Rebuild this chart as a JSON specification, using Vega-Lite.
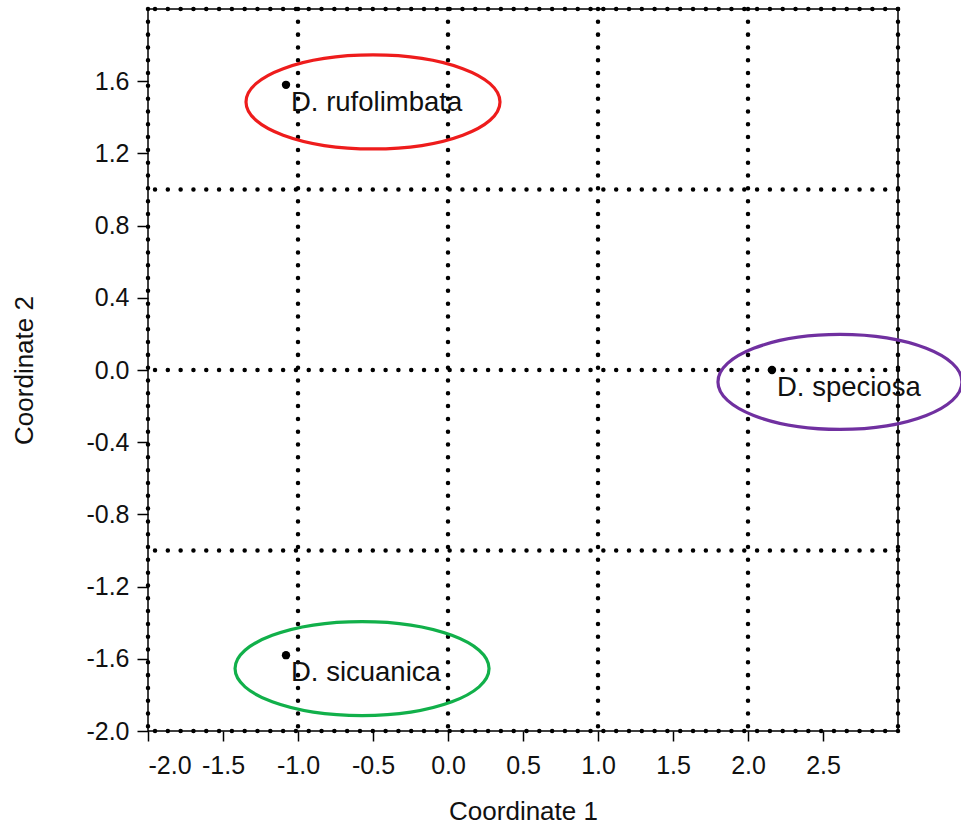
{
  "$schema": "https://vega.github.io/schema/vega-lite/v6.json",
  "autosize": {"type": "none"},
  "width": 750,
  "height": 722,
  "padding": {"left": 148, "top": 9, "right": 63, "bottom": 97},
  "background": "white",
  "config": {
    "view": {"stroke": "black", "strokeWidth": 1.5},
    "font": "Liberation Sans",
    "axis": {
      "grid": false,
      "domain": false,
      "ticks": true,
      "tickColor": "black",
      "tickWidth": 1.5,
      "labelFont": "Liberation Sans",
      "labelFontSize": 25,
      "labelColor": "#111",
      "titleFont": "Liberation Sans",
      "titleFontSize": 26,
      "titleFontWeight": "normal",
      "titleColor": "#111"
    }
  },
  "datasets": {
    "points": [
      {"species": "D. rufolimbata", "c1": -1.08, "c2": 1.58},
      {"species": "D. sicuanica", "c1": -1.08, "c2": -1.58},
      {"species": "D. speciosa", "c1": 2.16, "c2": 0.0}
    ],
    "groups": [
      {"group": "red", "c1": -0.5, "c2": 1.485},
      {"group": "green", "c1": -0.573, "c2": -1.654},
      {"group": "purple", "c1": 2.613, "c2": -0.066}
    ],
    "vgrid": [{"v": -2}, {"v": -1}, {"v": 0}, {"v": 1}, {"v": 2}, {"v": 3}],
    "hgrid": [{"v": -2}, {"v": -1}, {"v": 0}, {"v": 1}, {"v": 2}]
  },
  "layer": [
    {
      "data": {"name": "vgrid"},
      "mark": {"type": "rule", "color": "black", "strokeWidth": 4.5, "strokeDash": [0.01, 12.8], "strokeCap": "round"},
      "encoding": {
        "x": {"field": "v", "type": "quantitative", "scale": {"domain": [-2, 3], "nice": false, "zero": false},
          "axis": {"values": [-2, -1.5, -1, -0.5, 0, 0.5, 1, 1.5, 2, 2.5], "labelExpr": "(datum.value < 0 ? '-' : '') + format(abs(datum.value), '.1f')", "title": "Coordinate 1", "tickSize": 10, "labelPadding": 12, "titlePadding": 20}}
      }
    },
    {
      "data": {"name": "hgrid"},
      "mark": {"type": "rule", "color": "black", "strokeWidth": 4.5, "strokeDash": [0.01, 12.8], "strokeCap": "round"},
      "encoding": {
        "y": {"field": "v", "type": "quantitative", "scale": {"domain": [-2, 2], "nice": false, "zero": false},
          "axis": {"values": [-2, -1.6, -1.2, -0.8, -0.4, 0, 0.4, 0.8, 1.2, 1.6], "labelExpr": "(datum.value < 0 ? '-' : '') + format(abs(datum.value), '.1f')", "title": "Coordinate 2", "tickSize": 11, "labelPadding": 8, "titlePadding": 48}}
      }
    },
    {
      "data": {"name": "groups"},
      "transform": [{"filter": "datum.group !== 'purple'"}],
      "mark": {"type": "point", "filled": false, "strokeWidth": 3.2, "opacity": 1,
        "shape": "M1,0C1,0.2044,0.5523,0.37,0,0.37C-0.5523,0.37,-1,0.2044,-1,0C-1,-0.2044,-0.5523,-0.37,0,-0.37C0.5523,-0.37,1,-0.2044,1,0Z",
        "size": 64516},
      "encoding": {
        "x": {"field": "c1", "type": "quantitative"},
        "y": {"field": "c2", "type": "quantitative"},
        "color": {"field": "group", "type": "nominal", "scale": {"domain": ["red", "green", "purple"], "range": ["#ee1c1c", "#11b04a", "#7030a0"]}, "legend": null}
      }
    },
    {
      "data": {"name": "groups"},
      "transform": [{"filter": "datum.group === 'purple'"}],
      "mark": {"type": "point", "filled": false, "strokeWidth": 3.2, "opacity": 1,
        "shape": "M1,0C1,0.2149,0.5523,0.389,0,0.389C-0.5523,0.389,-1,0.2149,-1,0C-1,-0.2149,-0.5523,-0.389,0,-0.389C0.5523,-0.389,1,-0.2149,1,0Z",
        "size": 59536},
      "encoding": {
        "x": {"field": "c1", "type": "quantitative"},
        "y": {"field": "c2", "type": "quantitative"},
        "color": {"field": "group", "type": "nominal", "scale": {"domain": ["red", "green", "purple"], "range": ["#ee1c1c", "#11b04a", "#7030a0"]}, "legend": null}
      }
    },
    {
      "data": {"name": "points"},
      "mark": {"type": "circle", "color": "black", "size": 70, "opacity": 1},
      "encoding": {
        "x": {"field": "c1", "type": "quantitative"},
        "y": {"field": "c2", "type": "quantitative"}
      }
    },
    {
      "data": {"name": "points"},
      "mark": {"type": "text", "align": "left", "baseline": "middle", "dx": 5, "dy": 18, "fontSize": 27.5, "font": "Liberation Sans", "color": "#111"},
      "encoding": {
        "x": {"field": "c1", "type": "quantitative"},
        "y": {"field": "c2", "type": "quantitative"},
        "text": {"field": "species"}
      }
    }
  ]
}
